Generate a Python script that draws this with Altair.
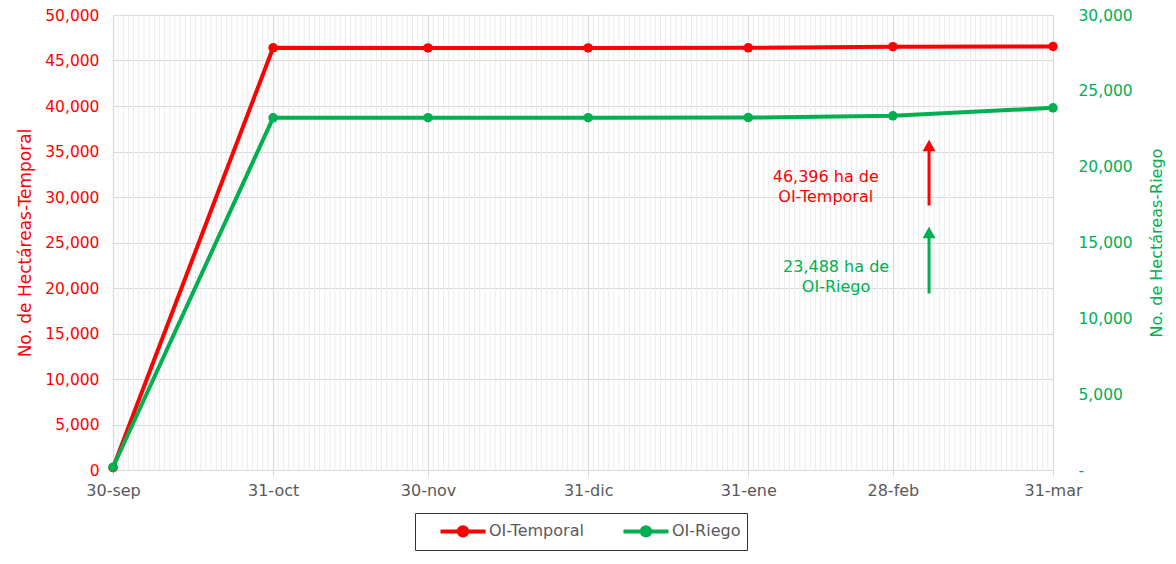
import altair as alt
import pandas as pd

# ---- data ----
fechas = ["2022-09-30", "2022-10-31", "2022-11-30", "2022-12-31",
          "2023-01-31", "2023-02-28", "2023-03-31"]
oi_temporal = [250, 46396, 46380, 46380, 46390, 46520, 46540]
oi_riego = [180, 23222, 23230, 23230, 23235, 23354, 23881]
series = ["OI-Temporal", "OI-Riego"]
colores = ["#FF0000", "#00B050"]

nota_texto = ["46,396 ha de\nOI-Temporal", "23,488 ha de\nOI-Riego"]
nota_fecha = ["2023-02-15", "2023-02-17"]
nota_valor = [32143, 22253]
flecha_fecha = ["2023-03-07", "2023-03-07"]
flecha_base = [29066, 19396]
flecha_punta = [35659, 26099]

FONT = "DejaVu Sans"
GRID = "#D9D9D9"

df_t = pd.DataFrame({"fecha": pd.to_datetime(fechas), "valor": oi_temporal, "serie": series[0]})
df_r = pd.DataFrame({"fecha": pd.to_datetime(fechas), "valor": oi_riego, "serie": series[1]})

dias = pd.date_range(fechas[0], fechas[-1], freq="D")
dias = dias[~dias.is_month_end]
df_dias = pd.DataFrame({"fecha": dias})

fd = pd.to_datetime(fechas)
mes_vals = [alt.DateTime(year=int(d.year), month=int(d.month), date=int(d.day)) for d in fd]
x_scale = alt.Scale(domain=[mes_vals[0], mes_vals[-1]], nice=False)

meses = "['ene','feb','mar','abr','may','jun','jul','ago','sep','oct','nov','dic']"
x_enc = alt.X(
    "fecha:T", scale=x_scale,
    axis=alt.Axis(values=mes_vals, title=None,
                  labelExpr="timeFormat(datum.value, '%d') + '-' + " + meses + "[month(datum.value)]",
                  grid=True, gridColor=GRID, gridWidth=1.2, domainColor=GRID, domainWidth=1.2,
                  tickColor=GRID, tickSize=6, labelColor="#595959", labelFontSize=16,
                  labelPadding=6, labelFont=FONT, labelFlush=False)
)

y_left = alt.Y(
    "valor:Q", scale=alt.Scale(domain=[0, 50000], nice=False),
    axis=alt.Axis(title="No. de Hectáreas-Temporal", titleColor=colores[0], titleFontSize=17,
                  titleFontWeight="normal", titleFont=FONT, labelColor=colores[0],
                  labelFontSize=15.5, labelFont=FONT, format=",",
                  labelExpr="format(datum.value, ',')", ticks=False, domain=False,
                  grid=True, gridColor=GRID, gridWidth=1.2,
                  values=list(range(0, 50001, 5000)), labelPadding=14, titlePadding=10)
)
y_right = alt.Y(
    "valor:Q", scale=alt.Scale(domain=[0, 30000], nice=False),
    axis=alt.Axis(orient="right", title="No. de Hectáreas-Riego", titleColor=colores[1],
                  titleFontSize=16, titleFontWeight="normal", titleFont=FONT, titleAngle=270,
                  labelColor=colores[1], labelFontSize=15.5, labelFont=FONT,
                  labelExpr="datum.value == 0 ? '-' : format(datum.value, ',')",
                  ticks=False, domain=False, grid=False,
                  values=list(range(0, 30001, 5000)), labelPadding=25, titlePadding=32)
)

legend = alt.Legend(orient="none", legendX=302, legendY=498, direction="horizontal", title=None,
                    strokeColor="#333333", padding=6, labelFontSize=16,
                    labelColor="#595959", labelFont=FONT,
                    symbolType="M-2.25,0H2.25M-0.42,0A0.42,0.42,0,1,1,0.42,0A0.42,0.42,0,1,1,-0.42,0Z",
                    symbolSize=400, symbolStrokeWidth=4, symbolOffset=30, labelOffset=14,
                    columnPadding=20)
color_enc = alt.Color("serie:N", scale=alt.Scale(domain=series, range=colores), legend=legend)

grid_layer = alt.Chart(df_dias).mark_rule(color="#EBEBEB", strokeWidth=1).encode(x=x_enc)

red = alt.Chart(df_t).mark_line(strokeWidth=4, point=alt.OverlayMarkDef(size=90, filled=True)).encode(
    x=x_enc, y=y_left, color=color_enc)
green = alt.Chart(df_r).mark_line(strokeWidth=4, point=alt.OverlayMarkDef(size=90, filled=True)).encode(
    x=x_enc, y=y_right, color=color_enc)

notes = []
for i in range(2):
    dn = pd.DataFrame({"fecha": [pd.Timestamp(nota_fecha[i])], "valor": [nota_valor[i]],
                       "texto": [nota_texto[i]]})
    da = pd.DataFrame({"fecha": [pd.Timestamp(flecha_fecha[i])], "valor": [flecha_base[i]],
                       "punta": [flecha_punta[i]]})
    dp = pd.DataFrame({"fecha": [pd.Timestamp(flecha_fecha[i])], "valor": [flecha_punta[i]]})
    notes.append(alt.Chart(dn).mark_text(color=colores[i], fontSize=16, font=FONT, lineBreak="\n",
                                         lineHeight=20, align="center", baseline="middle").encode(
        x=x_enc, y=y_left, text="texto:N"))
    notes.append(alt.Chart(da).mark_rule(color=colores[i], strokeWidth=3).encode(
        x=x_enc, y=y_left, y2="punta:Q"))
    notes.append(alt.Chart(dp).mark_point(shape="triangle-up", filled=True, size=170, opacity=1,
                                          color=colores[i]).encode(x=x_enc, y=y_left))

left_group = alt.layer(red, *notes)

chart = alt.layer(grid_layer, left_group, green).resolve_scale(y="independent").properties(
    width=940, height=455,
    autosize=alt.AutoSizeParams(type="none"),
    padding={"left": 105, "top": 7, "right": 115, "bottom": 86},
).configure_view(stroke=None)

chart.save("out.html", embed_options={"renderer": "svg", "actions": False})
